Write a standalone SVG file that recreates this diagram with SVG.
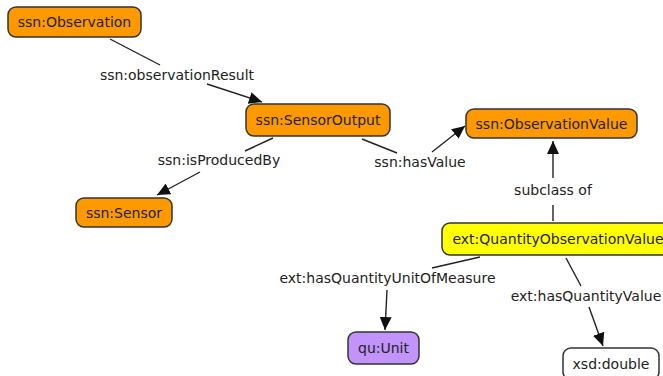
<svg xmlns="http://www.w3.org/2000/svg" width="663" height="376" viewBox="0 0 663 376">
  <style>
    .node rect { stroke: #333; stroke-width: 1.5; }
    .cls rect { fill: #ff9900; }
    .ext rect { fill: #ffff00; }
    .unit rect { fill: #c293fb; }
    .lit rect { fill: #ffffff; }
    text { font-family: "DejaVu Sans", Verdana, sans-serif; font-size: 14px; fill: #222; text-anchor: middle; }
    .edge line { stroke: #222; stroke-width: 1.4; }
    .edge line.head { marker-end: url(#arrow); }
  </style>
  <defs>
    <marker id="arrow" markerUnits="userSpaceOnUse" markerWidth="13" markerHeight="12" refX="13" refY="6" orient="auto">
      <path d="M0,0 L13,6 L0,12 z" fill="#111"/>
    </marker>
  </defs>
  <rect width="663" height="376" fill="#fff"/>

  <!-- connectors, each split around its label -->
  <g id="connectors">
    <g class="edge" id="e-observationResult">
      <line x1="110" y1="39" x2="160" y2="65"/>
      <line class="head" x1="207" y1="84" x2="262" y2="102"/>
      <text x="177" y="80">ssn:observationResult</text>
    </g>
    <g class="edge" id="e-isProducedBy">
      <line x1="273" y1="138" x2="245" y2="151"/>
      <line class="head" x1="200" y1="172" x2="157" y2="195"/>
      <text x="219" y="165">ssn:isProducedBy</text>
    </g>
    <g class="edge" id="e-hasValue">
      <line x1="362" y1="139" x2="397" y2="153"/>
      <line class="head" x1="432" y1="152" x2="465" y2="126"/>
      <text x="420" y="167">ssn:hasValue</text>
    </g>
    <g class="edge" id="e-subclass">
      <line x1="553" y1="221" x2="553" y2="205"/>
      <line class="head" x1="553" y1="178" x2="553" y2="141"/>
      <text x="553" y="195">subclass of</text>
    </g>
    <g class="edge" id="e-unitOfMeasure">
      <line x1="480" y1="257" x2="432" y2="268"/>
      <line class="head" x1="387" y1="290" x2="385" y2="330"/>
      <text x="387.5" y="283">ext:hasQuantityUnitOfMeasure</text>
    </g>
    <g class="edge" id="e-quantityValue">
      <line x1="566" y1="258" x2="581" y2="286"/>
      <line class="head" x1="589" y1="307" x2="603" y2="346"/>
      <text x="586" y="301">ext:hasQuantityValue</text>
    </g>
  </g>

  <!-- nodes -->
  <g id="n-observation" class="node cls">
    <rect x="8" y="7" width="133" height="30" rx="8"/>
    <text x="74.5" y="27">ssn:Observation</text>
  </g>
  <g id="n-sensorOutput" class="node cls">
    <rect x="246" y="104" width="144" height="32" rx="8"/>
    <text x="318" y="125">ssn:SensorOutput</text>
  </g>
  <g id="n-observationValue" class="node cls">
    <rect x="466" y="109" width="171" height="29" rx="8"/>
    <text x="551.5" y="128.5">ssn:ObservationValue</text>
  </g>
  <g id="n-sensor" class="node cls">
    <rect x="76" y="198" width="96" height="29" rx="8"/>
    <text x="124" y="217.5">ssn:Sensor</text>
  </g>
  <g id="n-quantityObservationValue" class="node ext">
    <rect x="442" y="223" width="232" height="32" rx="8"/>
    <text x="558" y="244">ext:QuantityObservationValue</text>
  </g>
  <g id="n-unit" class="node unit">
    <rect x="348" y="332" width="71" height="32" rx="8"/>
    <text x="383.5" y="353">qu:Unit</text>
  </g>
  <g id="n-double" class="node lit">
    <rect x="563" y="348" width="96" height="32" rx="8"/>
    <text x="611" y="369">xsd:double</text>
  </g>
</svg>
